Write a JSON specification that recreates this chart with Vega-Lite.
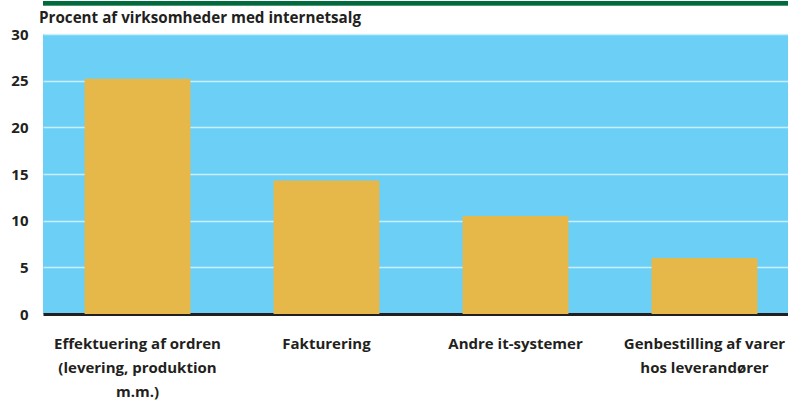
{
  "$schema": "https://vega.github.io/schema/vega-lite/v6.json",
  "autosize": "none",
  "width": 756,
  "height": 280,
  "padding": {"left": 43, "top": 34, "right": 0, "bottom": 87},
  "background": "white",
  "config": {
    "font": "Open Sans",
    "view": {"fill": "#6CCFF6", "stroke": null}
  },
  "title": {
    "text": "Procent af virksomheder med internetsalg",
    "anchor": "start",
    "frame": "group",
    "dx": -4,
    "offset": 10,
    "dy": 35,
    "fontSize": 15.2,
    "fontWeight": "bold",
    "color": "#231F20",
    "font": "Open Sans"
  },
  "data": {
    "values": [
      {"kategori": "Effektuering af ordren (levering, produktion m.m.)", "procent": 25.2},
      {"kategori": "Fakturering", "procent": 14.3},
      {"kategori": "Andre it-systemer", "procent": 10.5},
      {"kategori": "Genbestilling af varer hos leverandører", "procent": 6.0}
    ]
  },
  "layer": [
    {
      "mark": {"type": "bar", "color": "#E6B84A"},
      "encoding": {
        "x": {
          "field": "kategori",
          "type": "nominal",
          "sort": null,
          "scale": {"paddingInner": 0.44, "paddingOuter": 0.22},
          "axis": {
            "title": null,
            "labelAngle": 0,
            "ticks": false,
            "domain": true,
            "domainColor": "#231F20",
            "domainWidth": 3,
            "labelFontSize": 15,
            "labelFontWeight": "bold",
            "labelColor": "#231F20",
            "labelPadding": 22,
            "labelLineHeight": 24,
            "labelLimit": 300,
            "labelExpr": "datum.value == 'Effektuering af ordren (levering, produktion m.m.)' ? ['Effektuering af ordren', '(levering, produktion', 'm.m.)'] : datum.value == 'Genbestilling af varer hos leverandører' ? ['Genbestilling af varer', 'hos leverandører'] : datum.value"
          }
        },
        "y": {
          "field": "procent",
          "type": "quantitative",
          "scale": {"domain": [0, 30]},
          "axis": {
            "title": null,
            "values": [0, 5, 10, 15, 20, 25, 30],
            "domain": false,
            "ticks": false,
            "grid": true,
            "gridColor": "#D5F1FC",
            "gridWidth": 1.5,
            "gridOpacity": 0.9,
            "labelFontSize": 15,
            "labelFontWeight": "bold",
            "labelColor": "#231F20",
            "labelPadding": 15
          }
        }
      }
    },
    {
      "mark": {"type": "rule", "color": "#006A3C", "strokeWidth": 4, "clip": false},
      "encoding": {
        "y": {"datum": 33.3}
      }
    }
  ]
}
